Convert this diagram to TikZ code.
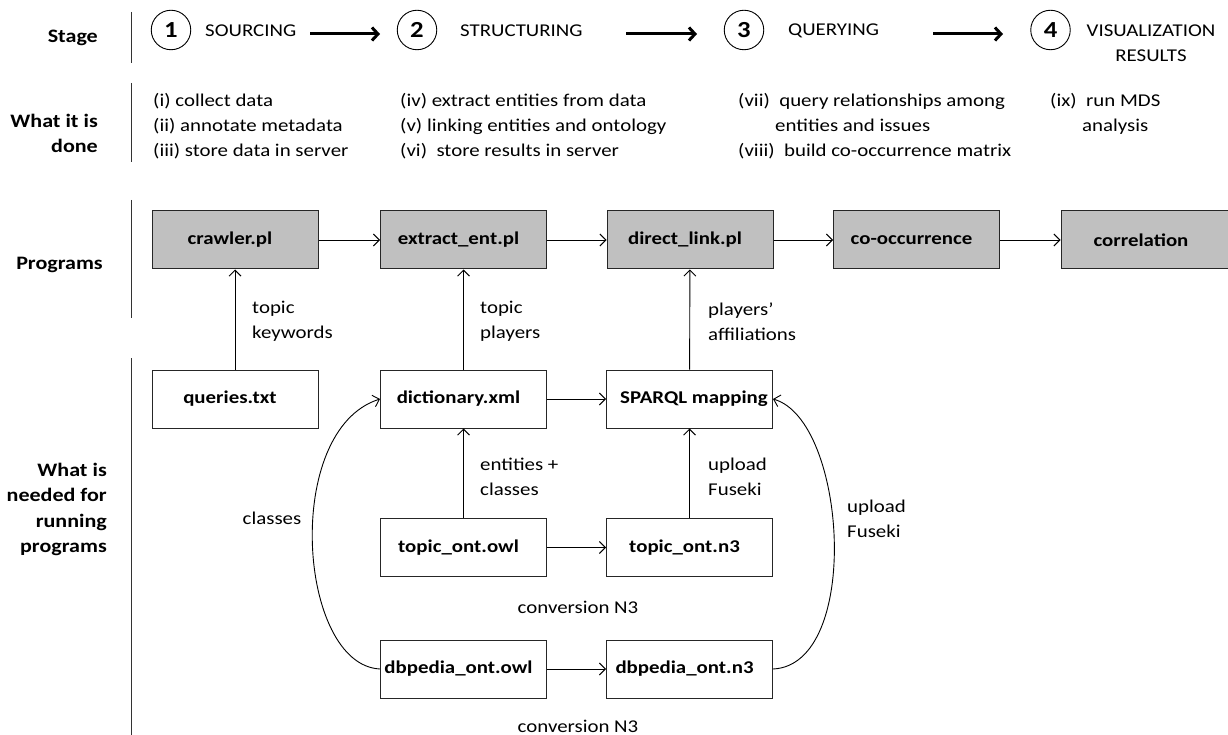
\documentclass[tikz,border=0pt]{standalone}
\usepackage{fontspec}
\setmainfont{Carlito}[FakeStretch=1.16]
\usetikzlibrary{arrows.meta}
\definecolor{progfill}{HTML}{C0C0C0}
\tikzset{
  base/.style={font=\fontsize{18}{25}\selectfont, inner sep=0pt},
  prog/.style={base, draw=black!85, line width=1pt, fill=progfill,
    minimum width=166pt, minimum height=58pt, font=\fontsize{18}{25}\selectfont\bfseries,
    execute at end node={\hspace*{10pt}}},
  res/.style={prog, fill=white},
  side/.style={base, align=right, anchor=east, font=\fontsize{19}{25.3}\selectfont\bfseries},
  txt/.style={base, align=left, anchor=west},
  num/.style={draw, line width=0.9pt, circle, minimum size=39.5pt, inner sep=0pt,
    font=\fontsize{23}{23}\selectfont\bfseries},
  flow/.style={->, line width=0.9pt, >={Straight Barb[length=6pt,width=12pt]}},
  bigflow/.style={line width=3pt, -{Straight Barb[length=6pt,width=13pt,line width=3pt]}},
  sep/.style={line width=0.9pt, black!80}
}
\begin{document}
\begin{tikzpicture}[x=1pt,y=-1pt]
\useasboundingbox (0,0) rectangle (1228,735);

% row separators
\draw[sep] (131,12) -- (131,63);
\draw[sep] (131,83) -- (131,162);
\draw[sep] (131,200) -- (131,318);
\draw[sep] (131,358) -- (131,735);

% row headings
\node[side] (hStage) at (98,38) {Stage};
\node[side] (hDone) at (98,133.5) {What it is\\done};
\node[side] (hProg) at (103,265) {Programs};
\node[side] (hNeed) at (107,509.5) {What is\\needed for\\running\\programs};

% stages
\node[num] (c1) at (171,30) {1};
\node[txt] (t1) at (205,31) {SOURCING};
\node[num] (c2) at (417,30) {2};
\node[txt] (t2) at (460,31) {STRUCTURING};
\node[num] (c3) at (744,30) {3};
\node[txt] (t3) at (788,31) {QUERYING};
\node[num] (c4) at (1050.5,30) {4};
\node[base, align=center] (t4) at (1151,43.5) {VISUALIZATION\\RESULTS};

\coordinate (a1s) at (310,34);
\coordinate (a1e) at (380,34);
\coordinate (a2s) at (626,34);
\coordinate (a2e) at (697,34);
\coordinate (a3s) at (933,34);
\coordinate (a3e) at (1003,34);
\draw[bigflow] (a1s) -- (a1e);
\draw[bigflow] (a2s) -- (a2e);
\draw[bigflow] (a3s) -- (a3e);

% what is done
\node[txt] (d1) at (153,126) {(i) collect data\\(ii) annotate metadata\\(iii) store data in server};
\node[txt] (d2) at (400,126) {(iv) extract entities from data\\(v) linking entities and ontology\\(vi)\ \ store results in server};
\node[txt] (d3) at (738,126) {(vii)\ \ query relationships among\\\hspace*{37pt}entities and issues\\(viii)\ \ build co-occurrence matrix};
\node[txt] (d4) at (1050,114) {(ix)\ \ run MDS\\\hspace*{32pt}analysis};

% programs
\node[prog] (crawler) at (235,240) {crawler.pl};
\node[prog] (extract) at (463.5,240) {extract\_ent.pl};
\node[prog] (direct) at (690,240) {direct\_link.pl};
\node[prog] (cooc) at (916.5,240) {co-occurrence};
\node[prog, minimum width=170pt] (corr) at (1146,240) {correlation};

% resources
\node[res] (queries) at (235,399) {queries.txt};
\node[res] (dict) at (463.5,399) {dictionary.xml};
\node[res] (sparql) at (689.5,399) {\hspace*{9pt}SPARQL mapping\hspace*{-10pt}};
\node[res] (towl) at (463.5,547.5) {topic\_ont.owl};
\node[res] (tn3) at (689.5,547.5) {topic\_ont.n3};
\node[res] (dowl) at (463.5,669) {dbpedia\_ont.owl};
\node[res] (dn3) at (689.5,669) {dbpedia\_ont.n3};

% program chain
\draw[flow] (crawler) -- (extract);
\draw[flow] (extract) -- (direct);
\draw[flow] (direct) -- (cooc);
\draw[flow] (cooc) -- (corr);

% inputs to programs
\draw[flow] (queries) -- (crawler);
\draw[flow] (dict) -- (extract);
\draw[flow] (sparql) -- (direct);
\node[txt] (l1) at (252,321.5) {topic\\keywords};
\node[txt] (l2) at (480,321.5) {topic\\players};
\node[txt] (l3) at (708,321.5) {players’\\affiliations};

% resource links
\draw[flow] (dict) -- (sparql);
\draw[flow] (towl) -- (tn3);
\draw[flow] (dowl) -- (dn3);
\draw[flow] (towl) -- (dict);
\draw[flow] (tn3) -- (sparql);
\node[txt] (l4) at (480,476.5) {entities +\\classes};
\node[txt] (l5) at (708,476.5) {upload\\Fuseki};
\node[base] (cv1) at (578,607) {conversion N3};
\node[base] (cv2) at (578,726) {conversion N3};

\draw[flow] (dowl.west) .. controls (298,665) and (282,430) .. (dict.west);
\node[base] (l6) at (272,518) {classes};
\draw[flow] (dn3.east) .. controls (862,665) and (847,420) .. (sparql.east);
\node[txt] (l7) at (847,519) {upload\\Fuseki};
\end{tikzpicture}
\end{document}
